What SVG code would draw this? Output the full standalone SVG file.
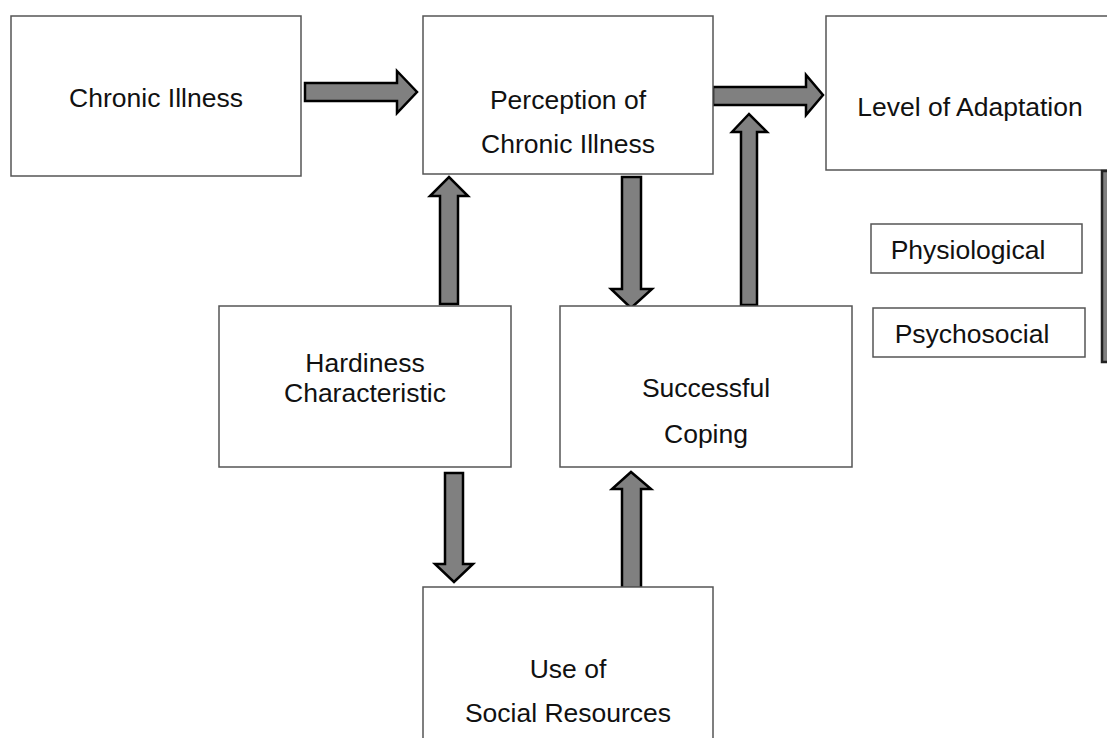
<svg xmlns="http://www.w3.org/2000/svg" width="1107" height="738" viewBox="0 0 1107 738">
<style>
.box{fill:#fff;stroke:#555;stroke-width:1.5}
.arr{fill:#808080;stroke:#000;stroke-width:2.5;stroke-linejoin:miter}
text{font-family:"Liberation Sans",Arial,sans-serif;font-size:26.5px;fill:#111;text-anchor:middle}
</style>
<rect width="1107" height="738" fill="#fff"/>
<g id="connectors">
<path class="arr" d="M305,83 H397 V71 L417,92 L397,113 V101 H305 Z"/>
<path class="arr" d="M713,87 H806 V75 L823,95 L806,115 V105 H713 Z"/>
<path class="arr" d="M440,304 V196 H430 L449,177 L468,196 H458 V304 Z"/>
<path class="arr" d="M622,177 H641 V289 H652 L631,308 L611,289 H622 Z"/>
<path class="arr" d="M741,305 V132 H732 L749,114 L767,132 H757 V305 Z"/>
<path class="arr" d="M445,473 H463 V564 H473 L454,582 L435,564 H445 Z"/>
<path class="arr" d="M622,588 V489 H612 L631,472 L651,489 H641 V588 Z"/>
</g>
<g id="chronic-illness">
<rect class="box" x="11" y="16" width="290" height="160"/>
<text x="156" y="107">Chronic Illness</text>
</g>
<g id="perception">
<rect class="box" x="423" y="16" width="290" height="158"/>
<text x="568" y="109">Perception of</text>
<text x="568" y="153">Chronic Illness</text>
</g>
<g id="level-of-adaptation">
<rect class="box" x="826" y="16" width="300" height="154"/>
<text x="970" y="116">Level of Adaptation</text>
</g>
<g id="side-bar">
<rect x="1102" y="171" width="20" height="191" fill="#808080" stroke="#222" stroke-width="2.5"/>
</g>
<g id="physiological">
<rect class="box" x="871" y="224" width="211" height="49"/>
<text x="968" y="259">Physiological</text>
</g>
<g id="psychosocial">
<rect class="box" x="873" y="308" width="212" height="49"/>
<text x="972" y="343">Psychosocial</text>
</g>
<g id="hardiness">
<rect class="box" x="219" y="306" width="292" height="161"/>
<text x="365" y="372">Hardiness</text>
<text x="365" y="402">Characteristic</text>
</g>
<g id="successful-coping">
<rect class="box" x="560" y="306" width="292" height="161"/>
<text x="706" y="397">Successful</text>
<text x="706" y="443">Coping</text>
</g>
<g id="social-resources">
<rect class="box" x="423" y="587" width="290" height="170"/>
<text x="568" y="678">Use of</text>
<text x="568" y="722">Social Resources</text>
</g>
</svg>
